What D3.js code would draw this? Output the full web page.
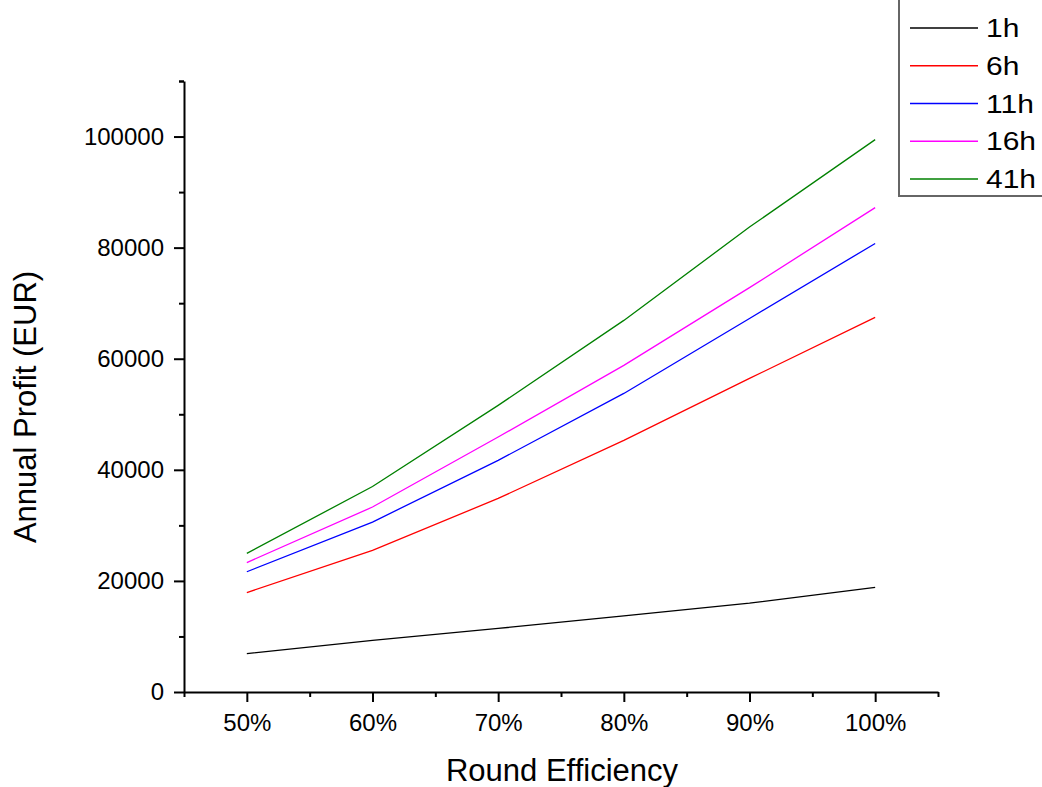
<!DOCTYPE html>
<html>
<head>
<meta charset="utf-8">
<script src="https://cdn.jsdelivr.net/npm/d3@7"></script>
<style>
  html, body { margin: 0; padding: 0; background: #fff; }
  svg { display: block; font-family: "Liberation Sans", Arial, sans-serif; }
</style>
</head>
<body>
<svg id="chart" width="1042" height="787"></svg>
<script>
const categories = [0.5, 0.6, 0.7, 0.8, 0.9, 1.0];
const xTickLabels = ["50%", "60%", "70%", "80%", "90%", "100%"];
const yTickValues = [0, 20000, 40000, 60000, 80000, 100000];
const seriesNames = ["1h", "6h", "11h", "16h", "41h"];
const seriesColors = ["#000000", "#ff0000", "#0000ff", "#ff00ff", "#008000"];
const values1h  = [6900, 9300, 11450, 13700, 16000, 18850];
const values6h  = [17900, 25500, 34850, 45300, 56450, 67450];
const values11h = [21650, 30600, 41700, 53750, 67250, 80750];
const values16h = [23300, 33300, 45900, 58800, 72800, 87200];
const values41h = [24950, 37000, 51600, 66900, 83700, 99450];
const seriesValues = [values1h, values6h, values11h, values16h, values41h];

(function () {
const svg = d3.select("#chart");
const pLeft = 184, pRight = 938, pTop = 81, pBottom = 692;

const x = d3.scaleLinear().domain([0.45, 1.05]).range([pLeft, pRight]);
const y = d3.scaleLinear().domain([0, 110000]).range([pBottom, pTop]);

const xMinor = d3.range(0, 7).map(i => 0.45 + i * 0.1);
const yMinor = d3.range(0, 6).map(i => 10000 + i * 20000);

const axisStyle = g => {
  g.attr("font-size", null).attr("font-family", null);
  g.selectAll("path.domain").attr("stroke", "#000").attr("stroke-width", 2);
  g.selectAll(".tick line").attr("stroke", "#000").attr("stroke-width", 2);
  g.selectAll(".tick text").attr("fill", "#000").style("font-size", "24px")
    .style("font-family", "Liberation Sans, Arial, sans-serif");
};

svg.append("g").attr("transform", `translate(0,${pBottom})`)
  .call(d3.axisBottom(x).tickValues(xMinor).tickSize(5).tickSizeOuter(0).tickFormat(""))
  .call(axisStyle);
svg.append("g").attr("transform", `translate(0,${pBottom})`)
  .call(d3.axisBottom(x).tickValues(categories).tickSize(10).tickPadding(12)
    .tickFormat((d, i) => xTickLabels[i]))
  .call(axisStyle)
  .call(g => g.select("path.domain").remove());

svg.append("g").attr("transform", `translate(${pLeft},0)`)
  .call(d3.axisLeft(y).tickValues(yMinor.concat([110000])).tickSize(5).tickSizeOuter(0).tickFormat(""))
  .call(axisStyle);
svg.append("g").attr("transform", `translate(${pLeft},0)`)
  .call(d3.axisLeft(y).tickValues(yTickValues).tickSize(10).tickPadding(10)
    .tickFormat(d3.format("d")))
  .call(axisStyle)
  .call(g => g.select("path.domain").remove());

const line = d3.line().x((d, i) => x(categories[i])).y(d => y(d));
seriesValues.forEach((vals, si) => {
  svg.append("path")
    .datum(vals)
    .attr("fill", "none")
    .attr("stroke", seriesColors[si])
    .attr("stroke-width", 1.3)
    .attr("d", line);
});

svg.append("text")
  .attr("x", 562)
  .attr("y", 781)
  .attr("text-anchor", "middle")
  .style("font-size", "31px")
  .attr("fill", "#000")
  .text("Round Efficiency");

svg.append("text")
  .attr("transform", `translate(36,407) rotate(-90)`)
  .attr("text-anchor", "middle")
  .style("font-size", "31px")
  .attr("fill", "#000")
  .text("Annual Profit (EUR)");

const legend = svg.append("g");
legend.append("rect")
  .attr("x", 899).attr("y", -2)
  .attr("width", 160).attr("height", 198)
  .attr("fill", "#fff").attr("stroke", "#666").attr("stroke-width", 2);
const legendY = d3.scalePoint().domain(seriesNames).range([28, 179]);
seriesNames.forEach((name, i) => {
  const yy = legendY(name);
  legend.append("line")
    .attr("x1", 910).attr("x2", 978)
    .attr("y1", yy).attr("y2", yy)
    .attr("stroke", seriesColors[i]).attr("stroke-width", 1.3);
  legend.append("text")
    .attr("transform", `translate(986,${yy + 9}) scale(1.2,1)`)
    .style("font-size", "25px").attr("fill", "#000")
    .text(name);
});
})();
</script>
</body>
</html>
